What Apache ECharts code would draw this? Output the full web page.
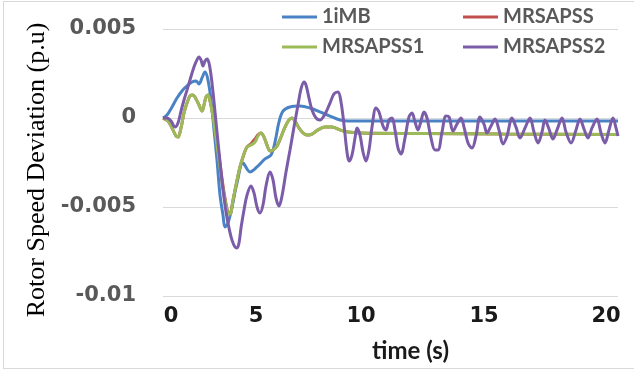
<!DOCTYPE html>
<html>
<head>
<meta charset="utf-8">
<script src="https://cdn.jsdelivr.net/npm/echarts@6/dist/echarts.min.js"></script>
<style>
html,body{margin:0;padding:0;background:#fff;}
#chart{width:634px;height:370px;}
</style>
</head>
<body>
<div id="chart"></div>
<script>
// Sample index along the time axis (one per plotted step)
const sampleCount = 456;
const categories = Array.from({length: sampleCount}, (_, i) => i);
// Tick labels of the time axis and the sample they sit on
const xTickLabels = ['0', '5', '10', '15', '20'];
const xTickIndex = [8, 93, 198, 321, 443];
const seriesNames = ['1iMB', 'MRSAPSS', 'MRSAPSS1', 'MRSAPSS2'];

const data1iMB = [[0,0],[4,0.00017],[9,0.00062],[14,0.00112],[19,0.00152],[24,0.0018],[29,0.00202],[33,0.00208],[36,0.00191],[39,0.00225],[42,0.00258],[45,0.00213],[48,0.00101],[51,-0.00067],[54,-0.00236],[57,-0.00433],[60,-0.00545],[62,-0.00613],[65,-0.0059],[69,-0.005],[74,-0.00365],[80,-0.00253],[87,-0.00303],[94,-0.00275],[102,-0.0023],[108,-0.00208],[112,-0.00135],[116,-0.00022],[120,0.00039],[127,0.00062],[137,0.00067],[147,0.00056],[157,0.00034],[167,0.00011],[177,-0.00011],[185,-0.00017],[230,-0.00017],[300,-0.00017],[380,-0.00017],[455,-0.00017]];

const dataMRSAPSS = [[0,0],[5,-0.00017],[9,-0.00056],[13,-0.00101],[15,-0.00107],[18,-0.00056],[21,0.00028],[24,0.00084],[27,0.00124],[30,0.00129],[33,0.00107],[36,0.00073],[39,0.00039],[41,0.00073],[43,0.00118],[45,0.00129],[47,0.00096],[50,0.00012],[53,-0.0009],[56,-0.0021],[59,-0.0034],[62,-0.0045],[65,-0.0053],[67,-0.0054],[70,-0.00461],[73,-0.00377],[77,-0.00275],[81,-0.00202],[84,-0.00163],[88,-0.00145],[90,-0.0013],[92,-0.00118],[95,-0.00095],[98,-0.00084],[101,-0.00107],[104,-0.00152],[107,-0.00185],[110,-0.0018],[114,-0.00157],[118,-0.00107],[122,-0.00051],[126,-0.00011],[129,0],[132,-0.00017],[136,-0.00056],[140,-0.00084],[144,-0.00096],[149,-0.0009],[155,-0.00067],[162,-0.00051],[169,-0.00051],[177,-0.00067],[185,-0.00079],[197,-0.00084],[260,-0.00087],[340,-0.0009],[455,-0.00093]];

const dataMRSAPSS1 = [[0,0],[5,-0.00017],[9,-0.00056],[13,-0.00101],[15,-0.00107],[18,-0.00056],[21,0.00028],[24,0.00084],[27,0.00124],[30,0.00129],[33,0.00107],[36,0.00073],[39,0.00039],[41,0.00073],[43,0.00118],[45,0.00129],[47,0.00096],[50,0.00006],[53,-0.00112],[56,-0.00236],[59,-0.0036],[62,-0.00461],[65,-0.00534],[67,-0.0054],[70,-0.00461],[73,-0.00377],[77,-0.00275],[81,-0.00202],[84,-0.00163],[88,-0.00152],[92,-0.00135],[95,-0.00101],[98,-0.00084],[101,-0.00107],[104,-0.00152],[107,-0.00185],[110,-0.0018],[114,-0.00157],[118,-0.00107],[122,-0.00051],[126,-0.00011],[129,0],[132,-0.00017],[136,-0.00056],[140,-0.00084],[144,-0.00096],[149,-0.0009],[155,-0.00067],[162,-0.00051],[169,-0.00051],[177,-0.00067],[185,-0.00079],[197,-0.00084],[260,-0.00087],[340,-0.0009],[455,-0.00093]];

const dataMRSAPSS2 = [[0,0],[4,0],[8,-0.00017],[12,-0.00051],[15,-0.00028],[18,0.00039],[21,0.00101],[24,0.00157],[27,0.00214],[30,0.0027],[33,0.00315],[36,0.00343],[38,0.00326],[40,0.00292],[42,0.0032],[44,0.00332],[46,0.00309],[48,0.00242],[50,0.00146],[52,0.00034],[54,-0.00079],[57,-0.00247],[60,-0.00404],[63,-0.00528],[66,-0.00618],[69,-0.00686],[72,-0.00725],[74,-0.0073],[76,-0.00702],[78,-0.00618],[81,-0.00517],[84,-0.00433],[88,-0.00382],[91,-0.00421],[94,-0.005],[97,-0.00534],[100,-0.00489],[103,-0.00382],[107,-0.00303],[110,-0.00348],[113,-0.0045],[116,-0.00495],[119,-0.00438],[123,-0.00303],[127,-0.0018],[131,-0.00051],[135,0.00073],[138,0.00163],[141,0.00202],[143,0.00185],[146,0.00112],[149,0.00045],[153,0],[157,-0.00011],[162,0.00022],[167,0.00084],[171,0.00135],[175,0.00146],[178,0.0009],[181,-0.00039],[184,-0.00191],[186,-0.00242],[189,-0.00208],[192,-0.00112],[194,-0.00056],[197,-0.00096],[200,-0.00191],[203,-0.00242],[206,-0.0018],[209,-0.00051],[213,0.00056],[216,0.00034],[220,-0.00045],[223,-0.00067],[226,-0.00011],[229,0],[232,-0.00067],[235,-0.00169],[238,-0.00202],[242,-0.00112],[246,0.00006],[249,0.00028],[252,-0.00022],[255,-0.00067],[258,-0.00017],[261,0.00034],[264,0],[268,-0.00112],[272,-0.0018],[275,-0.0018],[279,-0.00079],[283,0.00011],[286,0.00006],[290,-0.00073],[294,-0.00034],[298,0],[301,-0.00051],[305,-0.0014],[309,-0.00169],[313,-0.00101],[317,0.00006],[321,-0.00034],[324,-0.00084],[328,-0.00045],[332,-0.00006],[336,-0.00067],[340,-0.00146],[344,-0.00101],[349,0],[353,-0.00051],[357,-0.00112],[362,-0.00056],[367,0],[371,-0.00079],[375,-0.0014],[379,-0.00079],[382,-0.00011],[386,-0.00062],[390,-0.00118],[394,-0.00067],[399,0],[403,-0.00079],[408,-0.0014],[413,-0.00067],[417,-0.00006],[421,-0.00062],[425,-0.00112],[429,-0.00056],[434,-0.00006],[438,-0.00084],[442,-0.0014],[446,-0.00067],[450,0],[453,-0.00056],[455,-0.00101]];

const seriesData = [data1iMB, dataMRSAPSS, dataMRSAPSS1, dataMRSAPSS2];
const colors = ['#4a83c5', '#c0504d', '#9bbb59', '#7b5ca8'];

const chart = echarts.init(document.getElementById('chart'), null, {renderer: 'canvas'});

const legendText = {fontFamily: 'Lato', fontWeight: 'bold', fontSize: 20, color: '#595959'};
const legendPos = [[282, 7], [463, 7], [282, 37], [463, 37]];

const option = {
  animation: false,
  backgroundColor: '#ffffff',
  color: colors,
  grid: {left: 163, right: 16, top: 29, bottom: 74, containLabel: false},
  legend: seriesNames.map((n, i) => ({
    data: [n], left: legendPos[i][0], top: legendPos[i][1], padding: 0,
    icon: 'rect', itemWidth: 35, itemHeight: 3, itemGap: 0,
    selectedMode: false, textStyle: legendText
  })),
  xAxis: {
    type: 'category',
    data: categories,
    boundaryGap: false,
    axisLine: {show: false, onZero: false},
    axisTick: {show: false},
    splitLine: {show: false},
    axisLabel: {
      interval: (idx) => xTickIndex.includes(idx),
      formatter: (v, idx) => xTickLabels[xTickIndex.indexOf(Number(v))] ?? '',
      margin: 10,
      fontFamily: 'DejaVu Sans', fontWeight: 'bold', fontSize: 21, color: '#1a1a1a'
    },
    name: 'time (s)',
    nameLocation: 'middle',
    nameGap: 43,
    nameTextStyle: {fontFamily: 'Lato', fontWeight: 'bold', fontSize: 24, color: '#1a1a1a', padding: [0, 0, 0, 40]}
  },
  yAxis: {
    type: 'value',
    min: -0.01, max: 0.005, interval: 0.005,
    axisLine: {show: false},
    axisTick: {show: false},
    splitLine: {show: true, lineStyle: {color: '#d9d9d9', width: 1}},
    axisLabel: {margin: 27, fontFamily: 'DejaVu Sans', fontWeight: 'bold', fontSize: 21, color: '#595959'},
    name: 'Rotor Speed Deviation (p.u)',
    nameLocation: 'middle',
    nameRotate: 90,
    nameGap: 113,
    nameTextStyle: {fontFamily: 'Liberation Serif', fontSize: 26, color: '#000000', padding: [0, 15, 0, 0]}
  },
  graphic: [
    {type: 'line', shape: {x1: 3, y1: 1.5, x2: 634, y2: 1.5}, style: {stroke: '#d9d9d9', lineWidth: 1}, silent: true},
    {type: 'line', shape: {x1: 3.5, y1: 1.5, x2: 3.5, y2: 368}, style: {stroke: '#d9d9d9', lineWidth: 1}, silent: true},
    {type: 'line', shape: {x1: 3, y1: 368.5, x2: 634, y2: 368.5}, style: {stroke: '#d9d9d9', lineWidth: 1}, silent: true}
  ],
  series: seriesNames.map((n, i) => ({
    name: n,
    type: 'line',
    data: seriesData[i],
    smooth: 0.35,
    showSymbol: false,
    symbol: 'none',
    lineStyle: {width: 3, color: colors[i]},
    itemStyle: {color: colors[i]}
  }))
};
chart.setOption(option);
</script>
</body>
</html>
